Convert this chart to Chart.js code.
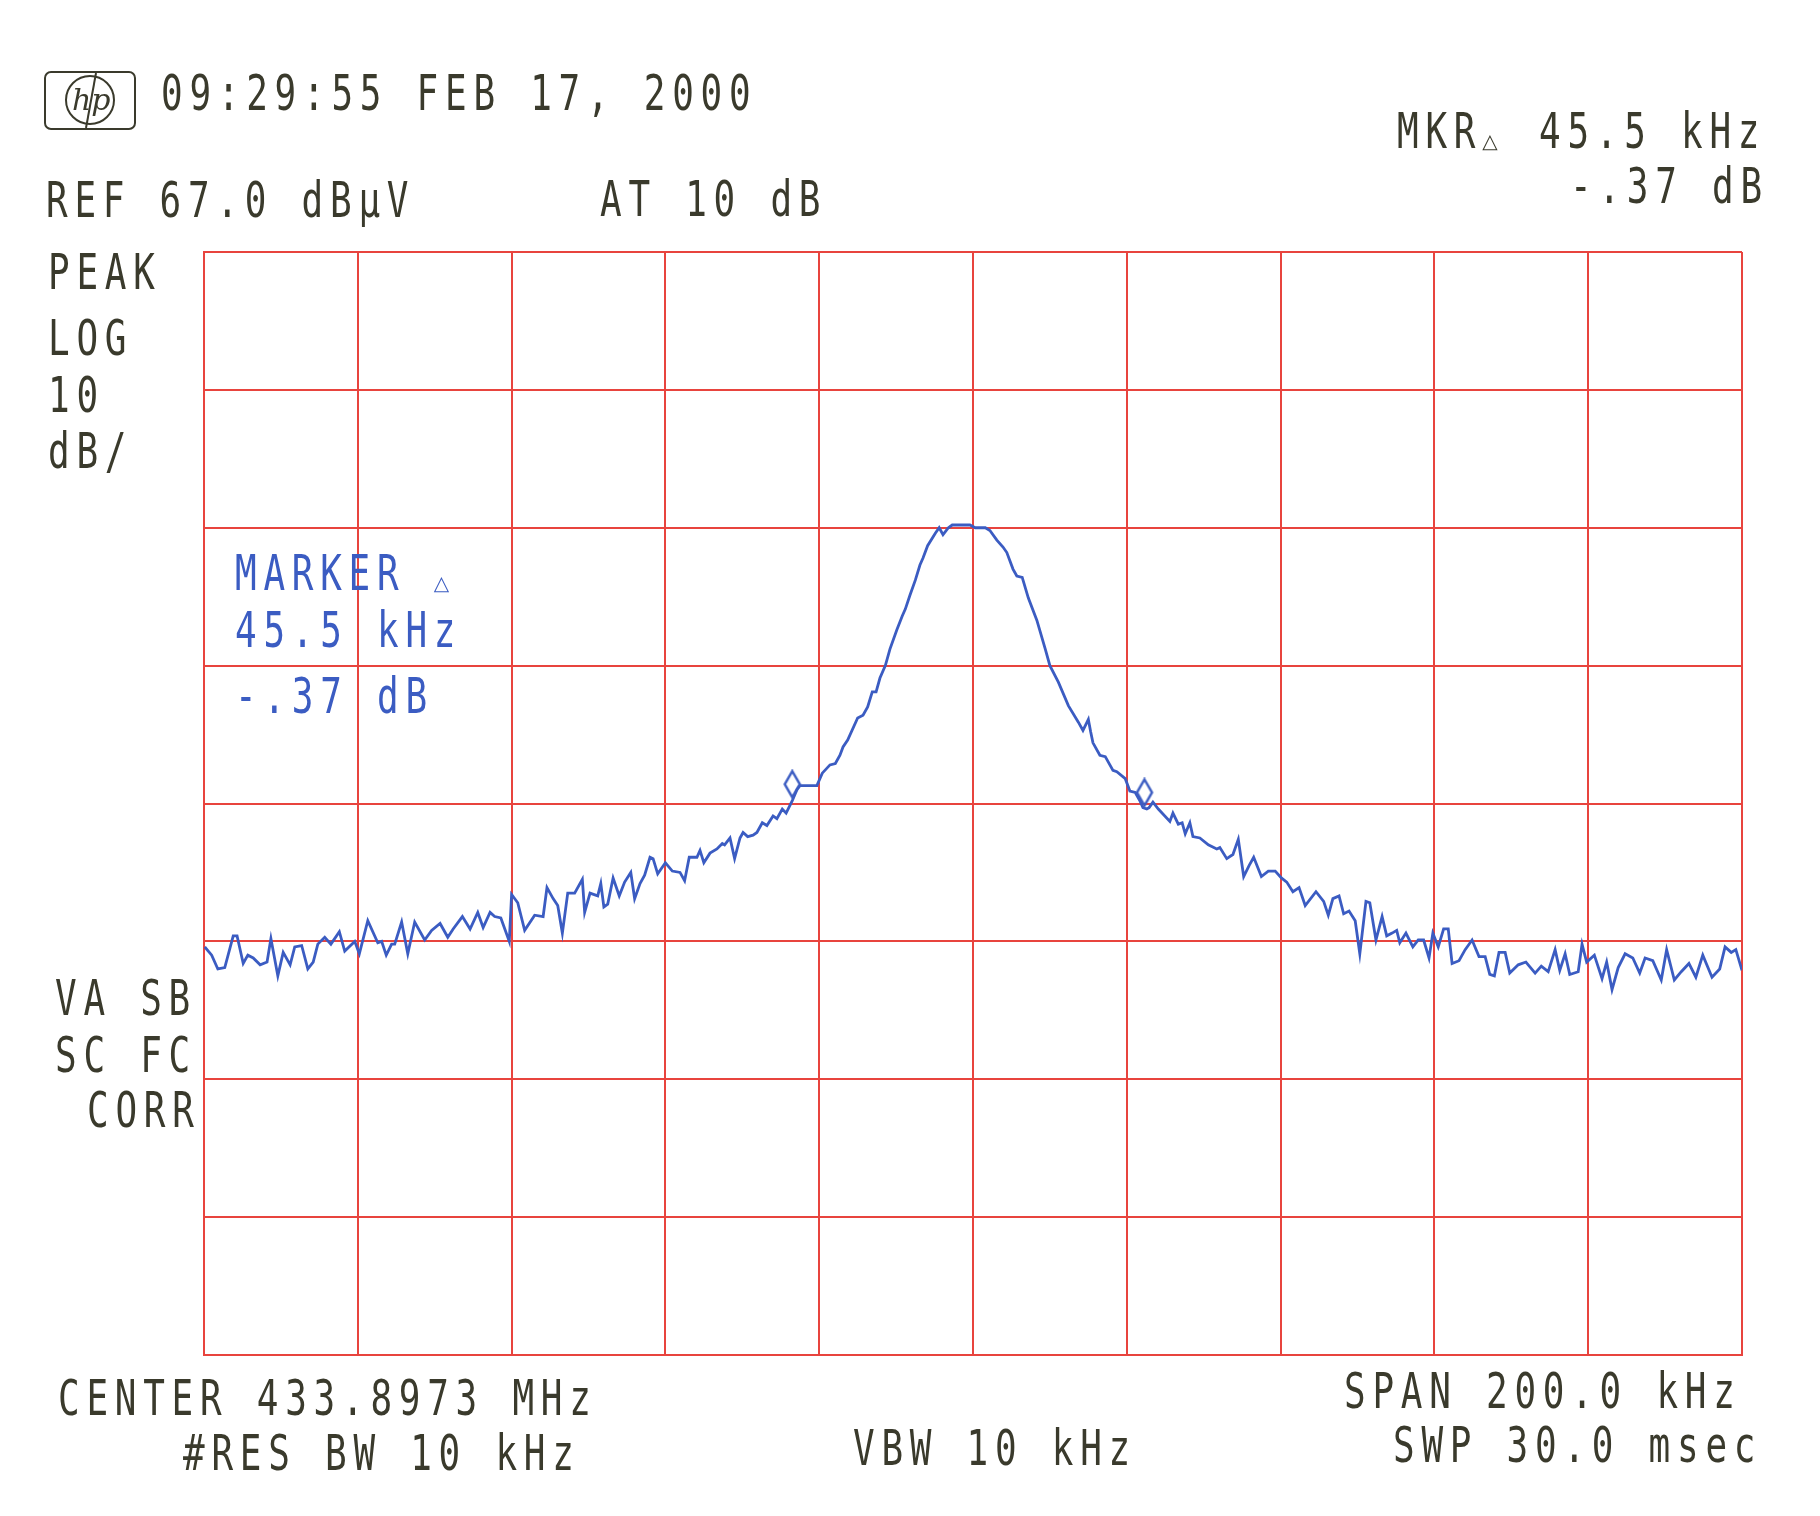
<!DOCTYPE html>
<html>
<head>
<meta charset="utf-8">
<script src="https://cdn.jsdelivr.net/npm/chart.js@4.4.1/dist/chart.umd.min.js"></script>
<style>
  html, body { margin: 0; padding: 0; background: #fff; }
  #wrap { width: 1820px; height: 1516px; }
</style>
</head>
<body>
<div id="wrap"><canvas id="spectrum" width="1820" height="1516"></canvas></div>
<script>
const refLevel = 67.0; // dBµV at top graticule line
const dbPerDiv = 10;
const vDivs = 8;
const halfSpanKHz = 100; // span 200 kHz, offsets from center
const kHzPerDiv = 20;

// trace, frequency offset from center (kHz) and level (dBµV)
const traceFreq = [
  -99.9, -99.0, -98.2, -97.3, -96.2, -95.7, -94.9, -94.3, -93.6, -92.7,
  -91.8, -91.3, -90.4, -89.7, -88.8, -88.2, -87.3, -86.5, -85.8, -85.2,
  -84.3, -83.5, -82.4, -81.7, -80.4, -79.8, -78.7, -77.4, -76.9, -76.3,
  -75.6, -75.2, -74.3, -73.5, -72.6, -71.3, -70.4, -69.3, -68.3, -67.6,
  -66.4, -65.4, -64.4, -63.7, -62.8, -62.2, -61.4, -60.3, -60.0, -59.2,
  -58.3, -57.0, -55.9, -55.4, -54.6, -54.0, -53.4, -52.7, -51.8, -50.8,
  -50.5, -49.8, -48.8, -48.4, -48.0, -47.5, -46.8, -46.0, -45.3, -44.5,
  -44.0, -43.3, -42.7, -42.0, -41.6, -41.0, -40.0, -39.1, -38.1, -37.5,
  -36.9, -35.9, -35.5, -35.0, -34.2, -33.3, -32.6, -32.3, -31.6, -31.0,
  -30.3, -29.9, -29.3, -28.6, -28.1, -27.4, -26.8, -26.0, -25.5, -24.8,
  -24.3, -23.5, -22.9, -22.5, -20.3, -19.6, -18.6, -17.9, -17.3, -16.9,
  -16.3, -15.0, -14.3, -13.7, -13.1, -12.6, -12.1, -11.4, -10.8, -9.9,
  -9.2, -8.8, -8.2, -7.5, -6.9, -6.5, -5.9, -4.9, -4.4, -3.9,
  -3.2, -2.7, -0.4, 0.3, 1.6, 2.2, 3.1, 3.9, 4.4, 5.2,
  5.7, 6.4, 7.2, 8.3, 9.4, 10.0, 11.1, 12.4, 13.7, 14.3,
  15.0, 15.3, 15.6, 16.5, 17.2, 18.2, 18.7, 19.8, 20.4, 21.1,
  21.7, 22.1, 22.6, 22.9, 23.4, 24.1, 25.6, 26.0, 26.7, 27.2,
  27.6, 28.2, 28.6, 29.5, 30.6, 31.7, 32.1, 33.0, 33.8, 34.5,
  35.2, 35.9, 36.5, 37.5, 38.4, 39.3, 40.1, 40.8, 41.6, 42.4,
  43.2, 44.6, 45.6, 46.2, 46.8, 47.6, 48.2, 48.9, 49.7, 50.3,
  51.1, 51.6, 52.4, 53.2, 53.8, 54.5, 55.1, 55.5, 56.3, 57.2,
  57.9, 58.6, 59.3, 59.8, 60.5, 61.2, 61.8, 62.3, 63.2, 64.0,
  64.9, 65.8, 66.6, 67.2, 67.8, 68.4, 69.2, 69.8, 70.9, 71.9,
  73.1, 73.9, 74.8, 75.7, 76.3, 77.0, 77.6, 78.7, 79.2, 79.8,
  80.8, 81.8, 82.4, 83.1, 83.9, 84.8, 85.8, 86.7, 87.4, 88.4,
  89.5, 90.2, 91.2, 92.1, 93.1, 94.0, 94.9, 96.1, 97.1, 97.8,
  98.6, 99.2, 100.0
];
const traceLevel = [
  16.6, 16.0, 15.0, 15.1, 17.4, 17.4, 15.4, 16.0, 15.8, 15.3,
  15.5, 17.2, 14.5, 16.2, 15.3, 16.6, 16.7, 15.0, 15.5, 16.8,
  17.3, 16.8, 17.7, 16.3, 17.0, 16.1, 18.5, 16.9, 17.0, 16.0,
  16.8, 16.8, 18.4, 16.1, 18.4, 17.1, 17.8, 18.3, 17.3, 17.9,
  18.8, 17.9, 19.1, 18.0, 19.1, 18.8, 18.7, 17.0, 20.4, 19.8,
  17.8, 18.9, 18.8, 20.9, 20.1, 19.6, 17.6, 20.5, 20.5, 21.5,
  19.1, 20.5, 20.3, 21.2, 19.5, 19.7, 21.6, 20.3, 21.3, 22.0,
  20.1, 21.2, 21.8, 23.1, 23.0, 21.9, 22.7, 22.1, 22.0, 21.4,
  23.1, 23.1, 23.6, 22.7, 23.4, 23.7, 24.1, 24.0, 24.5, 23.0,
  24.5, 24.9, 24.6, 24.7, 24.9, 25.6, 25.4, 26.1, 25.9, 26.6,
  26.3, 27.2, 28.0, 28.3, 28.3, 29.2, 29.8, 29.9, 30.5, 31.1,
  31.6, 33.2, 33.4, 34.0, 35.1, 35.1, 36.1, 37.0, 38.2, 39.6,
  40.6, 41.1, 42.1, 43.2, 44.3, 44.8, 45.7, 46.6, 47.0, 46.5,
  47.0, 47.2, 47.2, 47.0, 47.0, 46.8, 46.1, 45.6, 45.2, 44.0,
  43.5, 43.4, 41.9, 40.3, 38.2, 37.0, 35.8, 34.1, 32.9, 32.3,
  33.1, 32.2, 31.4, 30.5, 30.4, 29.4, 29.3, 28.8, 27.9, 27.8,
  27.2, 26.7, 26.6, 26.7, 27.1, 26.6, 25.7, 26.3, 25.5, 25.6,
  24.8, 25.6, 24.6, 24.5, 24.0, 23.7, 23.8, 23.0, 23.3, 24.4,
  21.7, 22.5, 23.1, 21.7, 22.1, 22.1, 21.6, 21.3, 20.6, 20.9,
  19.6, 20.6, 19.9, 18.9, 20.1, 20.3, 19.0, 19.2, 18.5, 16.1,
  19.9, 19.8, 17.1, 18.8, 17.4, 17.6, 17.8, 16.9, 17.6, 16.6,
  17.1, 17.1, 15.8, 17.6, 16.6, 17.9, 17.9, 15.4, 15.6, 16.4,
  17.1, 15.9, 15.9, 14.6, 14.5, 16.2, 16.2, 14.7, 15.3, 15.5,
  14.7, 15.2, 14.8, 16.4, 14.9, 16.1, 14.6, 14.8, 16.8, 15.5,
  16.0, 14.3, 15.5, 13.5, 15.1, 16.1, 15.8, 14.7, 15.8, 15.6,
  14.2, 16.4, 14.2, 14.8, 15.4, 14.4, 16.0, 14.4, 15.0, 16.6,
  16.2, 16.4, 14.9
];

// delta marker pair (diamonds on the trace)
const markerFreq = [-23.5, 22.3];
const markerLevel = [28.4, 27.8];

const gridColor = "#e8443e";
const traceColor = "#3b5cc2";
const inkColor = "#3a3a2c";
const PITCH = 28.4;

// elongated diamond used by the analyzer for markers
const diamond = document.createElement("canvas");
diamond.width = 20;
diamond.height = 30;
const dctx = diamond.getContext("2d");
dctx.strokeStyle = traceColor;
dctx.lineWidth = 2.5;
dctx.beginPath();
dctx.moveTo(10, 2);
dctx.lineTo(17.5, 15);
dctx.lineTo(10, 28);
dctx.lineTo(2.5, 15);
dctx.closePath();
dctx.stroke();

// plotter style text, drawn one character cell at a time
function hpText(ctx, str, x, y, color) {
  ctx.save();
  ctx.fillStyle = color;
  ctx.textBaseline = "alphabetic";
  for (let i = 0; i < str.length; i++) {
    const ch = str[i];
    if (ch === " ") continue;
    ctx.save();
    ctx.translate(x + i * PITCH, y);
    if (ch === "△") {
      ctx.font = "20px 'DejaVu Sans'";
      ctx.fillText(ch, 0, 0);
    } else {
      ctx.scale(0.72, 1);
      ctx.font = "50px 'DejaVu Sans Mono'";
      ctx.fillText(ch, 0, 0);
    }
    ctx.restore();
  }
  ctx.restore();
}

function drawLogo(ctx) {
  ctx.save();
  ctx.strokeStyle = inkColor;
  ctx.lineWidth = 2;
  ctx.beginPath();
  ctx.roundRect(45, 72, 90, 57, 6);
  ctx.stroke();
  ctx.beginPath();
  ctx.arc(90, 100, 24, 0, Math.PI * 2);
  ctx.stroke();
  ctx.beginPath();
  ctx.moveTo(96, 73);
  ctx.lineTo(86, 128);
  ctx.stroke();
  ctx.fillStyle = inkColor;
  ctx.font = "italic 30px 'DejaVu Serif'";
  ctx.fillText("hp", 72, 110);
  ctx.restore();
}

const annotations = {
  id: "annotations",
  beforeDraw(chart) {
    const ctx = chart.ctx;
    ctx.save();
    ctx.fillStyle = "#ffffff";
    ctx.fillRect(0, 0, chart.width, chart.height);
    ctx.restore();
  },
  afterDraw(chart) {
    const ctx = chart.ctx;
    drawLogo(ctx);
    hpText(ctx, "09:29:55 FEB 17, 2000", 161, 110, inkColor);
    hpText(ctx, "REF 67.0 dBµV", 46, 217, inkColor);
    hpText(ctx, "AT 10 dB", 600, 216, inkColor);
    hpText(ctx, "MKR△ 45.5 kHz", 1397, 148, inkColor);
    hpText(ctx, "-.37 dB", 1570, 203, inkColor);
    hpText(ctx, "PEAK", 48, 289, inkColor);
    hpText(ctx, "LOG", 48, 355, inkColor);
    hpText(ctx, "10", 48, 412, inkColor);
    hpText(ctx, "dB/", 48, 468, inkColor);
    hpText(ctx, "VA SB", 55, 1015, inkColor);
    hpText(ctx, "SC FC", 55, 1072, inkColor);
    hpText(ctx, "CORR", 87, 1127, inkColor);
    hpText(ctx, "CENTER 433.8973 MHz", 58, 1415, inkColor);
    hpText(ctx, "#RES BW 10 kHz", 183, 1470, inkColor);
    hpText(ctx, "VBW 10 kHz", 853, 1465, inkColor);
    hpText(ctx, "SPAN 200.0 kHz", 1344, 1408, inkColor);
    hpText(ctx, "SWP 30.0 msec", 1393, 1462, inkColor);
    // marker readout written inside the graticule
    hpText(ctx, "MARKER △", 235, 590, traceColor);
    hpText(ctx, "45.5 kHz", 235, 647, traceColor);
    hpText(ctx, "-.37 dB", 235, 713, traceColor);
  },
};

const traceData = traceFreq.map((f, i) => ({ x: f, y: traceLevel[i] }));
const markerData = markerFreq.map((f, i) => ({ x: f, y: markerLevel[i] }));

new Chart(document.getElementById("spectrum"), {
  type: "scatter",
  data: {
    datasets: [
      {
        label: "trace",
        data: traceData,
        showLine: true,
        borderColor: traceColor,
        borderWidth: 2.8,
        pointRadius: 0,
        tension: 0,
      },
      {
        label: "markers",
        data: markerData,
        pointStyle: diamond,
        pointRadius: 12,
        showLine: false,
      },
    ],
  },
  options: {
    responsive: false,
    animation: false,
    devicePixelRatio: 1,
    layout: {
      padding: { left: 204, right: 78, top: 252, bottom: 161 },
    },
    scales: {
      x: {
        type: "linear",
        min: -halfSpanKHz,
        max: halfSpanKHz,
        ticks: { display: false, stepSize: kHzPerDiv },
        grid: { color: gridColor, lineWidth: 2, drawTicks: false },
        border: { color: gridColor, width: 2 },
      },
      y: {
        type: "linear",
        min: refLevel - vDivs * dbPerDiv,
        max: refLevel,
        afterBuildTicks: (scale) => {
          const t = [];
          for (let i = 0; i <= vDivs; i++) {
            t.push({ value: refLevel - vDivs * dbPerDiv + i * dbPerDiv });
          }
          scale.ticks = t;
        },
        ticks: { display: false },
        grid: { color: gridColor, lineWidth: 2, drawTicks: false },
        border: { color: gridColor, width: 2 },
      },
    },
    plugins: {
      legend: { display: false },
      title: { display: false },
      tooltip: { enabled: false },
    },
  },
  plugins: [annotations],
});
</script>
</body>
</html>
